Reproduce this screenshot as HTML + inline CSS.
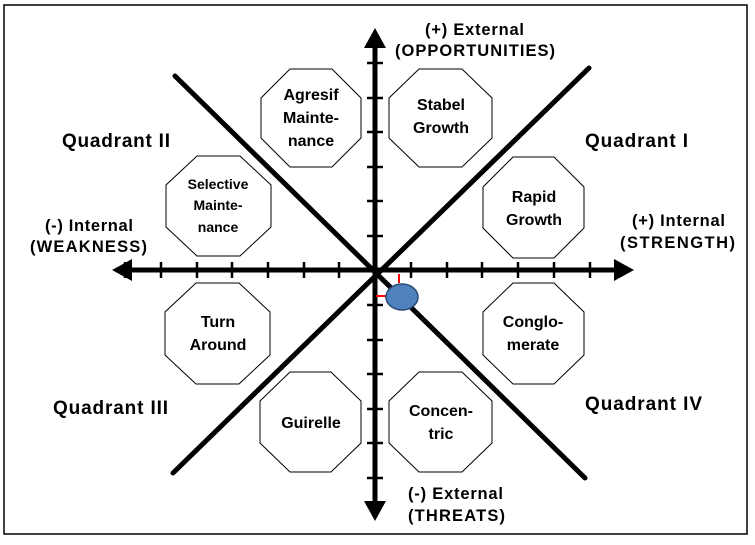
<!DOCTYPE html>
<html><head><style>
html,body{margin:0;padding:0;background:#fff;}
svg text{font-family:"Liberation Sans",Arial,sans-serif;font-weight:bold;fill:#000;}
</style></head><body>
<svg width="755" height="540" viewBox="0 0 755 540" xmlns="http://www.w3.org/2000/svg">
<rect x="4" y="5" width="743" height="529" fill="#fff" stroke="#000" stroke-width="1.5"/>
<g stroke="#000" stroke-width="5" stroke-linecap="round">
<line x1="175" y1="76" x2="585" y2="478"/>
<line x1="589" y1="68" x2="173" y2="473"/>
</g>
<g stroke="#000" stroke-width="5">
<line x1="128" y1="270" x2="618" y2="270"/>
<line x1="375" y1="44" x2="375" y2="506"/>
</g>
<polygon points="112,270 132,259 132,281" fill="#000"/>
<polygon points="634,270 614,259 614,281" fill="#000"/>
<polygon points="375,28 364,48 386,48" fill="#000"/>
<polygon points="375,521 364,501 386,501" fill="#000"/>
<g stroke="#000" stroke-width="2.5">
<line x1="125" y1="262" x2="125" y2="278"/><line x1="161" y1="262" x2="161" y2="278"/>
<line x1="197" y1="262" x2="197" y2="278"/><line x1="232" y1="262" x2="232" y2="278"/>
<line x1="268" y1="262" x2="268" y2="278"/><line x1="304" y1="262" x2="304" y2="278"/>
<line x1="339" y1="262" x2="339" y2="278"/><line x1="411" y1="262" x2="411" y2="278"/>
<line x1="447" y1="262" x2="447" y2="278"/><line x1="482" y1="262" x2="482" y2="278"/>
<line x1="518" y1="262" x2="518" y2="278"/><line x1="554" y1="262" x2="554" y2="278"/>
<line x1="590" y1="262" x2="590" y2="278"/>
<line x1="367" y1="63" x2="383" y2="63"/><line x1="367" y1="98" x2="383" y2="98"/>
<line x1="367" y1="132" x2="383" y2="132"/><line x1="367" y1="167" x2="383" y2="167"/>
<line x1="367" y1="201" x2="383" y2="201"/><line x1="367" y1="236" x2="383" y2="236"/>
<line x1="367" y1="305" x2="383" y2="305"/><line x1="367" y1="340" x2="383" y2="340"/>
<line x1="367" y1="374" x2="383" y2="374"/><line x1="367" y1="409" x2="383" y2="409"/>
<line x1="367" y1="443" x2="383" y2="443"/><line x1="367" y1="478" x2="383" y2="478"/>
</g>
<g fill="#fff" stroke="#000" stroke-width="1">
<polygon points="290,69 332,69 361,98 361,138 332,167 290,167 261,138 261,98"/>
<polygon points="419,69 462,69 492,98 492,138 462,167 419,167 389,138 389,98"/>
<polygon points="197,156 240,156 271,185 271,227 240,256 197,256 166,227 166,185"/>
<polygon points="513,157 554,157 584,187 584,228 554,258 513,258 483,228 483,187"/>
<polygon points="196,283 239,283 270,312 270,355 239,384 196,384 165,355 165,312"/>
<polygon points="513,283 554,283 584,312 584,355 554,384 513,384 483,355 483,312"/>
<polygon points="290,372 331,372 361,401 361,443 331,472 290,472 260,443 260,401"/>
<polygon points="419,372 462,372 492,401 492,443 462,472 419,472 389,443 389,401"/>
</g>
<g stroke="#f00" stroke-width="2">
<line x1="399" y1="274" x2="399" y2="283"/>
<line x1="376" y1="296" x2="387" y2="296"/>
</g>
<ellipse cx="402" cy="297" rx="16" ry="13" fill="#4f81bd" stroke="#2a4a75" stroke-width="1.5"/>
<g font-size="16" text-anchor="middle">
<text x="311" y="100">Agresif</text><text x="311" y="123">Mainte-</text><text x="311" y="146">nance</text>
<text x="441" y="110">Stabel</text><text x="441" y="133">Growth</text>
<text x="534" y="202">Rapid</text><text x="534" y="225">Growth</text>
<text x="218" y="327">Turn</text><text x="218" y="350">Around</text>
<text x="533" y="327">Conglo-</text><text x="533" y="350">merate</text>
<text x="311" y="428">Guirelle</text>
<text x="441" y="416">Concen-</text><text x="441" y="439">tric</text>
</g>
<g font-size="16.5" lengthAdjust="spacing">
<text x="425" y="35" textLength="99" lengthAdjust="spacing">(+) External</text>
<text x="395" y="56" textLength="160" lengthAdjust="spacing">(OPPORTUNITIES)</text>
<text x="632" y="226" textLength="93" lengthAdjust="spacing">(+) Internal</text>
<text x="620" y="248" textLength="115" lengthAdjust="spacing">(STRENGTH)</text>
<text x="45" y="231" textLength="88" lengthAdjust="spacing">(-) Internal</text>
<text x="30" y="252" textLength="117" lengthAdjust="spacing">(WEAKNESS)</text>
<text x="408" y="499" textLength="95" lengthAdjust="spacing">(-) External</text>
<text x="408" y="521" textLength="97" lengthAdjust="spacing">(THREATS)</text>
</g>
<g font-size="14" text-anchor="middle">
<text x="218" y="189">Selective</text><text x="218" y="210">Mainte-</text><text x="218" y="232">nance</text>
</g>
<g font-size="19">
<text x="62" y="147" textLength="108" lengthAdjust="spacing">Quadrant II</text>
<text x="585" y="147" textLength="103" lengthAdjust="spacing">Quadrant I</text>
<text x="53" y="414" textLength="115" lengthAdjust="spacing">Quadrant III</text>
<text x="585" y="410" textLength="117" lengthAdjust="spacing">Quadrant IV</text>
</g>
</svg>
</body></html>
